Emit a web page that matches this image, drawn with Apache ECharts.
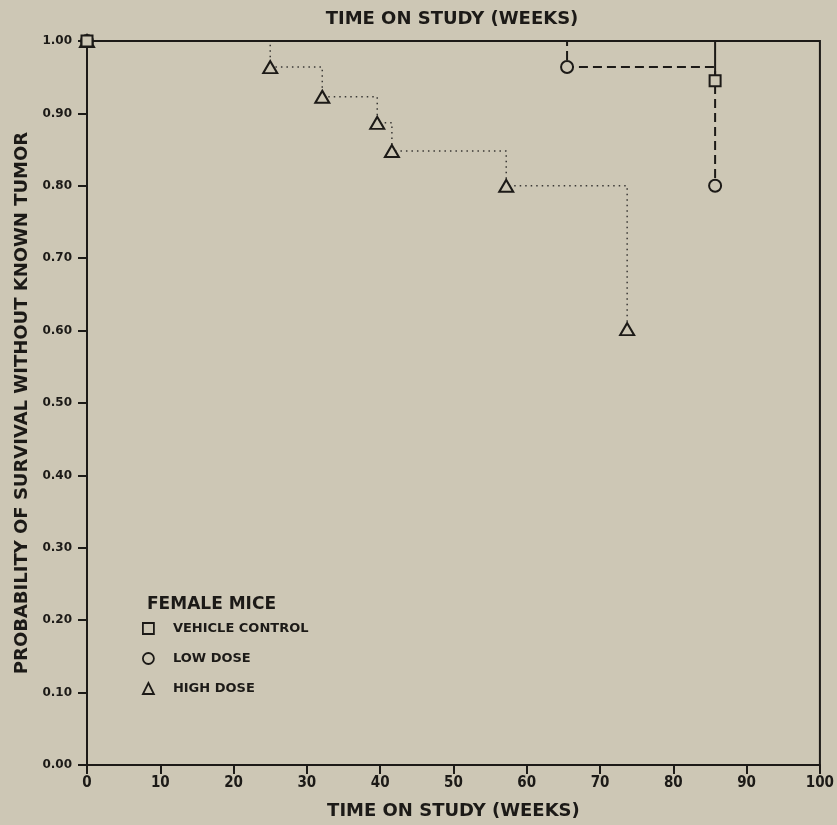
<!DOCTYPE html>
<html><head><meta charset="utf-8">
<script src="https://cdn.jsdelivr.net/npm/echarts@6/dist/echarts.min.js"></script>
<style>html,body{margin:0;padding:0;background:#cdc7b5;}#c{width:837px;height:825px;}</style>
</head><body><div id="c"></div>
<script>
const xTicks = [0,10,20,30,40,50,60,70,80,90,100];
const yTicks = [0,0.1,0.2,0.3,0.4,0.5,0.6,0.7,0.8,0.9,1.0];
const vcX = [0, 85.7];
const vcY = [1.0, 0.945];
const ldX = [0, 65.5, 85.7];
const ldY = [1.0, 0.964, 0.80];
const hdX = [0, 25.0, 32.1, 39.6, 41.6, 57.2, 73.7];
const hdY = [1.0, 0.964, 0.923, 0.887, 0.848, 0.80, 0.602];
const names = ['VEHICLE CONTROL','LOW DOSE','HIGH DOSE'];

const pair = (xs, ys) => xs.map((x,i)=>[x, ys[i]]);
const ink = '#1c1a17';
const bg = '#cdc7b5';
const wide = "'DejaVu Sans',sans-serif";
const narrow = "'Liberation Sans Narrow','DejaVu Sans Condensed',sans-serif";
const chart = echarts.init(document.getElementById('c'));
const mk = (name, data, symbol, size, ls) => ({
  name, type:'line', data, step:'end', symbol, symbolSize:size, showSymbol:true,
  lineStyle: ls, itemStyle:{color:bg, borderColor:ink, borderWidth:2},
  animation:false, z: 3
});
chart.setOption({
  backgroundColor:bg,
  animation:false,
  grid:{left:87, right:16, top:41, bottom:56, show:true, borderColor:ink, borderWidth:2, backgroundColor:'transparent'},
  xAxis:{type:'value', min:0, max:100, interval:10,
    name:'TIME ON STUDY (WEEKS)', nameLocation:'middle', nameGap:37,
    nameTextStyle:{fontFamily:wide, fontWeight:'bold', fontSize:18, color:ink},
    axisLine:{show:true, lineStyle:{color:ink, width:2}},
    axisTick:{show:true, length:9, lineStyle:{color:ink, width:2}},
    axisLabel:{fontFamily:narrow, fontWeight:'bold', fontSize:15, color:ink, margin:11,
      formatter:(v)=> xTicks.includes(v) ? String(v) : ''},
    splitLine:{show:false}},
  yAxis:{type:'value', min:0, max:1, interval:0.1,
    name:'PROBABILITY OF SURVIVAL WITHOUT KNOWN TUMOR', nameLocation:'middle', nameGap:56,
    nameTextStyle:{fontFamily:wide, fontWeight:'bold', fontSize:18, color:ink},
    axisLine:{show:true, lineStyle:{color:ink, width:2}},
    axisTick:{show:true, length:9, lineStyle:{color:ink, width:2}},
    axisLabel:{fontFamily:wide, fontWeight:'bold', fontSize:12, color:ink, margin:15,
      formatter:(v)=> v.toFixed(2)},
    splitLine:{show:false}},
  legend:{orient:'vertical', left:142, top:622, padding:0, itemWidth:11, itemHeight:11, itemGap:17,
    data:[
      {name:names[0], icon:'rect'},
      {name:names[1], icon:'circle'},
      {name:names[2], icon:'triangle'}],
    itemStyle:{color:bg, borderColor:ink, borderWidth:1.8},
    textStyle:{fontFamily:wide, fontWeight:'bold', fontSize:13, color:ink, padding:[0,0,0,14]}},
  graphic:[
    {type:'text', x:452, y:19,
      style:{text:'TIME ON STUDY (WEEKS)', font:"bold 18px 'DejaVu Sans',sans-serif", fill:ink,
        textAlign:'center', textVerticalAlign:'middle'}},
    {type:'text', x:147, y:605,
      style:{text:'FEMALE MICE', font:"bold 17px 'DejaVu Sans',sans-serif", fill:ink,
        textVerticalAlign:'middle'}}],
  series:[
    mk(names[2], pair(hdX,hdY), 'triangle', [14,12], {color:'#3a3835', width:1.5, type:[1.5,4]}),
    mk(names[1], pair(ldX,ldY), 'circle', 12, {color:ink, width:2, type:[9,5]}),
    mk(names[0], pair(vcX,vcY), 'rect', 11, {color:ink, width:2, type:'solid'})
  ]
});
</script></body></html>
